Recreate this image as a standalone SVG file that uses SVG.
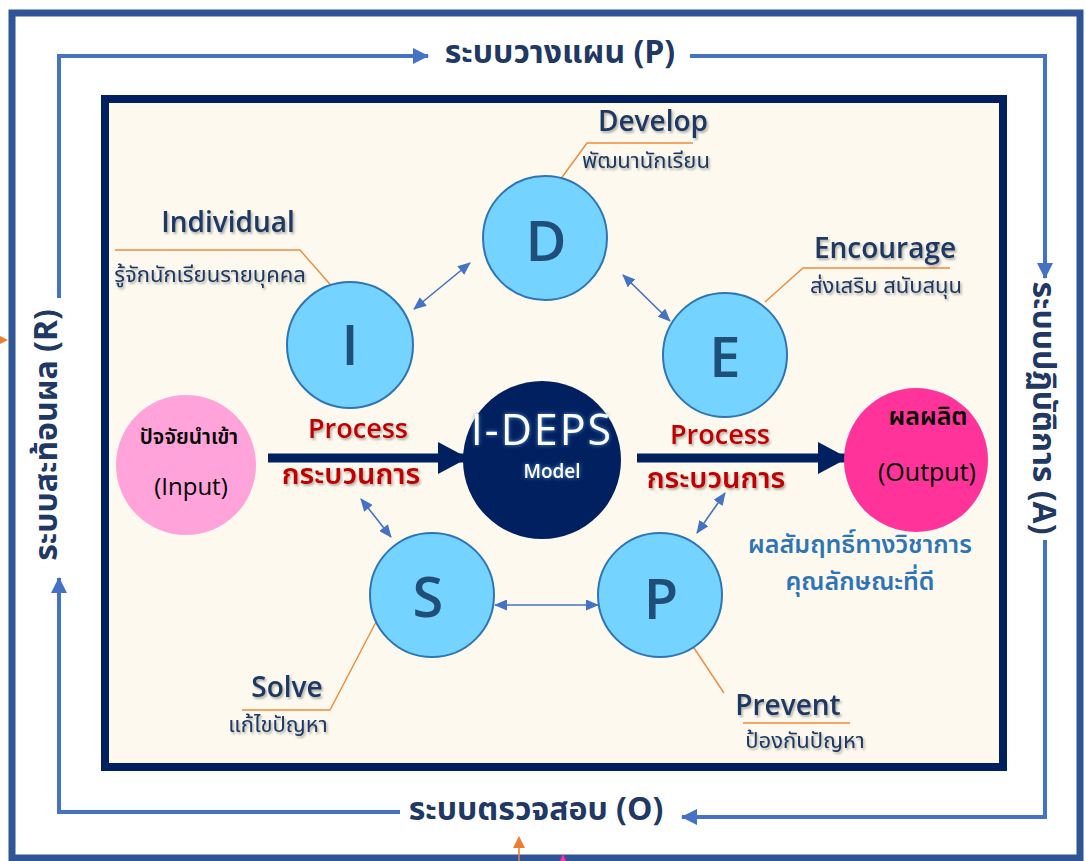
<svg xmlns="http://www.w3.org/2000/svg" width="1086" height="861" viewBox="0 0 1086 861">
<defs>
<style>
.lat{font-family:"Open Sans","Noto Sans","DejaVu Sans",sans-serif;}
.th{font-family:"Noto Sans Thai","Noto Sans","DejaVu Sans","Liberation Sans",sans-serif;}
.navy{fill:#1F3864;}
.lbl{font-size:28px;font-weight:600;}
.sub{font-size:22px;}
.red{fill:#C00000;font-weight:600;}
.node{fill:#75D4FF;stroke:#2E75B6;stroke-width:2;}
.letter{font-family:"Open Sans","Noto Sans",sans-serif;font-size:56px;font-weight:600;fill:#1F4E79;text-anchor:middle;}
.lead{fill:none;stroke:#F08A3C;stroke-width:1.4;}
.loop{fill:none;stroke:#4472C4;stroke-width:4;}
.dbl{stroke:#4472C4;stroke-width:1.6;fill:none;}
.thick{stroke:#002060;stroke-width:9;fill:none;}
.sys{font-size:32px;font-weight:700;fill:#1F3864;}
</style>
<marker id="mBig" markerUnits="userSpaceOnUse" markerWidth="30" markerHeight="32" refX="28" refY="16" orient="auto">
<path d="M0,0 L30,16 L0,32 Z" fill="#002060"/>
</marker>
<marker id="mLoop" markerUnits="userSpaceOnUse" markerWidth="16" markerHeight="16" refX="15" refY="8" orient="auto">
<path d="M0,0 L16,8 L0,16 Z" fill="#4472C4"/>
</marker>
<marker id="mDbl" markerUnits="userSpaceOnUse" markerWidth="13" markerHeight="11" refX="12" refY="5.5" orient="auto-start-reverse">
<path d="M0,0 L13,5.5 L0,11 Z" fill="#4472C4"/>
</marker>
<filter id="sh" x="-10%" y="-20%" width="120%" height="150%">
<feDropShadow dx="1.5" dy="2" stdDeviation="1.2" flood-color="#000" flood-opacity="0.3"/>
</filter>
<filter id="glow" x="-10%" y="-20%" width="120%" height="150%">
<feDropShadow dx="0" dy="0" stdDeviation="2" flood-color="#5B9BD5" flood-opacity="0.9"/>
</filter>
</defs>

<rect width="1086" height="861" fill="#FFFFFF"/>

<g id="outer-frame">
<rect x="12" y="13" width="1068" height="845" fill="none" stroke="#2F5597" stroke-width="7"/>
</g>

<g id="panel">
<rect x="105" y="99" width="898" height="668" fill="#FDF9EE" stroke="#002060" stroke-width="8"/>
</g>

<g id="connectors">
<path class="loop" d="M59,298 V56 H428" marker-end="url(#mLoop)"/>
<path class="loop" d="M690,56 H1045 V278" marker-end="url(#mLoop)"/>
<path class="loop" d="M1045,540 V817 H682" marker-end="url(#mLoop)"/>
<path class="loop" d="M400,812 H59 V578" marker-end="url(#mLoop)"/>
<line class="thick" x1="268" y1="458" x2="466" y2="458" marker-end="url(#mBig)"/>
<line class="thick" x1="637" y1="458" x2="846" y2="458" marker-end="url(#mBig)"/>
<line class="dbl" x1="414" y1="309" x2="470" y2="263" marker-start="url(#mDbl)" marker-end="url(#mDbl)"/>
<line class="dbl" x1="623" y1="275" x2="670" y2="321" marker-start="url(#mDbl)" marker-end="url(#mDbl)"/>
<line class="dbl" x1="361" y1="499" x2="391" y2="537" marker-start="url(#mDbl)" marker-end="url(#mDbl)"/>
<line class="dbl" x1="725" y1="493" x2="697" y2="533" marker-start="url(#mDbl)" marker-end="url(#mDbl)"/>
<line class="dbl" x1="495" y1="605" x2="598" y2="605" marker-start="url(#mDbl)" marker-end="url(#mDbl)"/>
<polyline class="lead" points="560,180 587,143 693,143"/>
<polyline class="lead" points="115,250 300,250 335,290"/>
<polyline class="lead" points="765,302 803,268 950,268"/>
<polyline class="lead" points="376,622 330,710 242,710"/>
<polyline class="lead" points="692,645 724,693"/>
<line class="lead" x1="743" y1="723" x2="850" y2="723"/>
<path d="M519,861 V844" stroke="#ED7D31" stroke-width="1.5"/>
<path d="M513,848 L519,836 L525,848 Z" fill="#ED7D31"/>
<path d="M560,861 L563,854 L566,861 Z" fill="#FF3399"/>
<path d="M0,336 L8,340 L0,344 Z" fill="#ED7D31"/>
</g>

<g id="sys-labels">
<text class="th sys" x="560" y="63" text-anchor="middle">ระบบวางแผน (P)</text>
<text class="th sys" x="536" y="820" text-anchor="middle">ระบบตรวจสอบ (O)</text>
<text class="th sys" transform="translate(57,435) rotate(-90)" text-anchor="middle">ระบบสะท้อนผล (R)</text>
<text class="th sys" transform="translate(1033,408) rotate(90)" text-anchor="middle">ระบบปฏิบัติการ (A)</text>
</g>

<g id="node-D">
<circle class="node" cx="545" cy="238" r="62"/>
<text class="letter" x="546" y="261">D</text>
<text class="lat lbl navy" x="653" y="131" text-anchor="middle" filter="url(#sh)">Develop</text>
<text class="th sub navy" x="646" y="168" text-anchor="middle" filter="url(#sh)">พัฒนานักเรียน</text>
</g>

<g id="node-I">
<circle class="node" cx="350" cy="345" r="63"/>
<text class="letter" x="350" y="365">I</text>
<text class="lat lbl navy" x="228" y="232" text-anchor="middle" filter="url(#sh)">Individual</text>
<text class="th sub navy" x="210" y="282" text-anchor="middle" filter="url(#sh)">รู้จักนักเรียนรายบุคคล</text>
</g>

<g id="node-E">
<circle class="node" cx="725" cy="355" r="62"/>
<text class="letter" x="725" y="377">E</text>
<text class="lat lbl navy" x="885" y="258" text-anchor="middle" filter="url(#sh)">Encourage</text>
<text class="th sub navy" x="886" y="293" text-anchor="middle" filter="url(#sh)">ส่งเสริม สนับสนุน</text>
</g>

<g id="node-S">
<circle class="node" cx="432" cy="595" r="62"/>
<text class="letter" x="428" y="617">S</text>
<text class="lat lbl navy" x="287" y="697" text-anchor="middle" filter="url(#sh)">Solve</text>
<text class="th sub navy" x="278" y="732" text-anchor="middle" filter="url(#sh)">แก้ไขปัญหา</text>
</g>

<g id="node-P">
<circle class="node" cx="660" cy="595" r="62"/>
<text class="letter" x="661" y="619">P</text>
<text class="lat lbl navy" x="788" y="715" text-anchor="middle" filter="url(#sh)">Prevent</text>
<text class="th sub navy" x="805" y="748" text-anchor="middle" filter="url(#sh)">ป้องกันปัญหา</text>
</g>

<g id="node-center">
<circle cx="542" cy="460" r="79" fill="#002060"/>
<text class="lat" x="542" y="445" text-anchor="middle" font-size="43" letter-spacing="2" fill="#FFFFFF" filter="url(#glow)">I-DEPS</text>
<text class="lat" x="552" y="478" text-anchor="middle" font-size="19" font-weight="600" fill="#FFFFFF" filter="url(#glow)">Model</text>
</g>

<g id="node-input">
<circle cx="186" cy="465" r="70" fill="#FFA3DA"/>
<text class="th" x="189" y="444" text-anchor="middle" font-size="21" font-weight="600" fill="#000000">ปัจจัยนำเข้า</text>
<text class="lat" x="191" y="495" text-anchor="middle" font-size="24" fill="#000000">(Input)</text>
</g>

<g id="node-output">
<circle cx="916" cy="460" r="72" fill="#FF3399"/>
<text class="th" x="928" y="425" text-anchor="middle" font-size="25" font-weight="600" fill="#000000">ผลผลิต</text>
<text class="lat" x="927" y="481" text-anchor="middle" font-size="25" fill="#000000">(Output)</text>
</g>

<g id="process-labels">
<text class="lat red" x="358" y="438" text-anchor="middle" font-size="27" filter="url(#sh)">Process</text>
<text class="th red" x="351" y="484" text-anchor="middle" font-size="29" filter="url(#sh)">กระบวนการ</text>
<text class="lat red" x="720" y="444" text-anchor="middle" font-size="27" filter="url(#sh)">Process</text>
<text class="th red" x="716" y="488" text-anchor="middle" font-size="29" filter="url(#sh)">กระบวนการ</text>
</g>

<g id="result-labels">
<text class="th" x="860" y="553" text-anchor="middle" font-size="25" font-weight="600" fill="#2E75B6">ผลสัมฤทธิ์ทางวิชาการ</text>
<text class="th" x="860" y="590" text-anchor="middle" font-size="25" font-weight="600" fill="#2E75B6">คุณลักษณะที่ดี</text>
</g>
</svg>
